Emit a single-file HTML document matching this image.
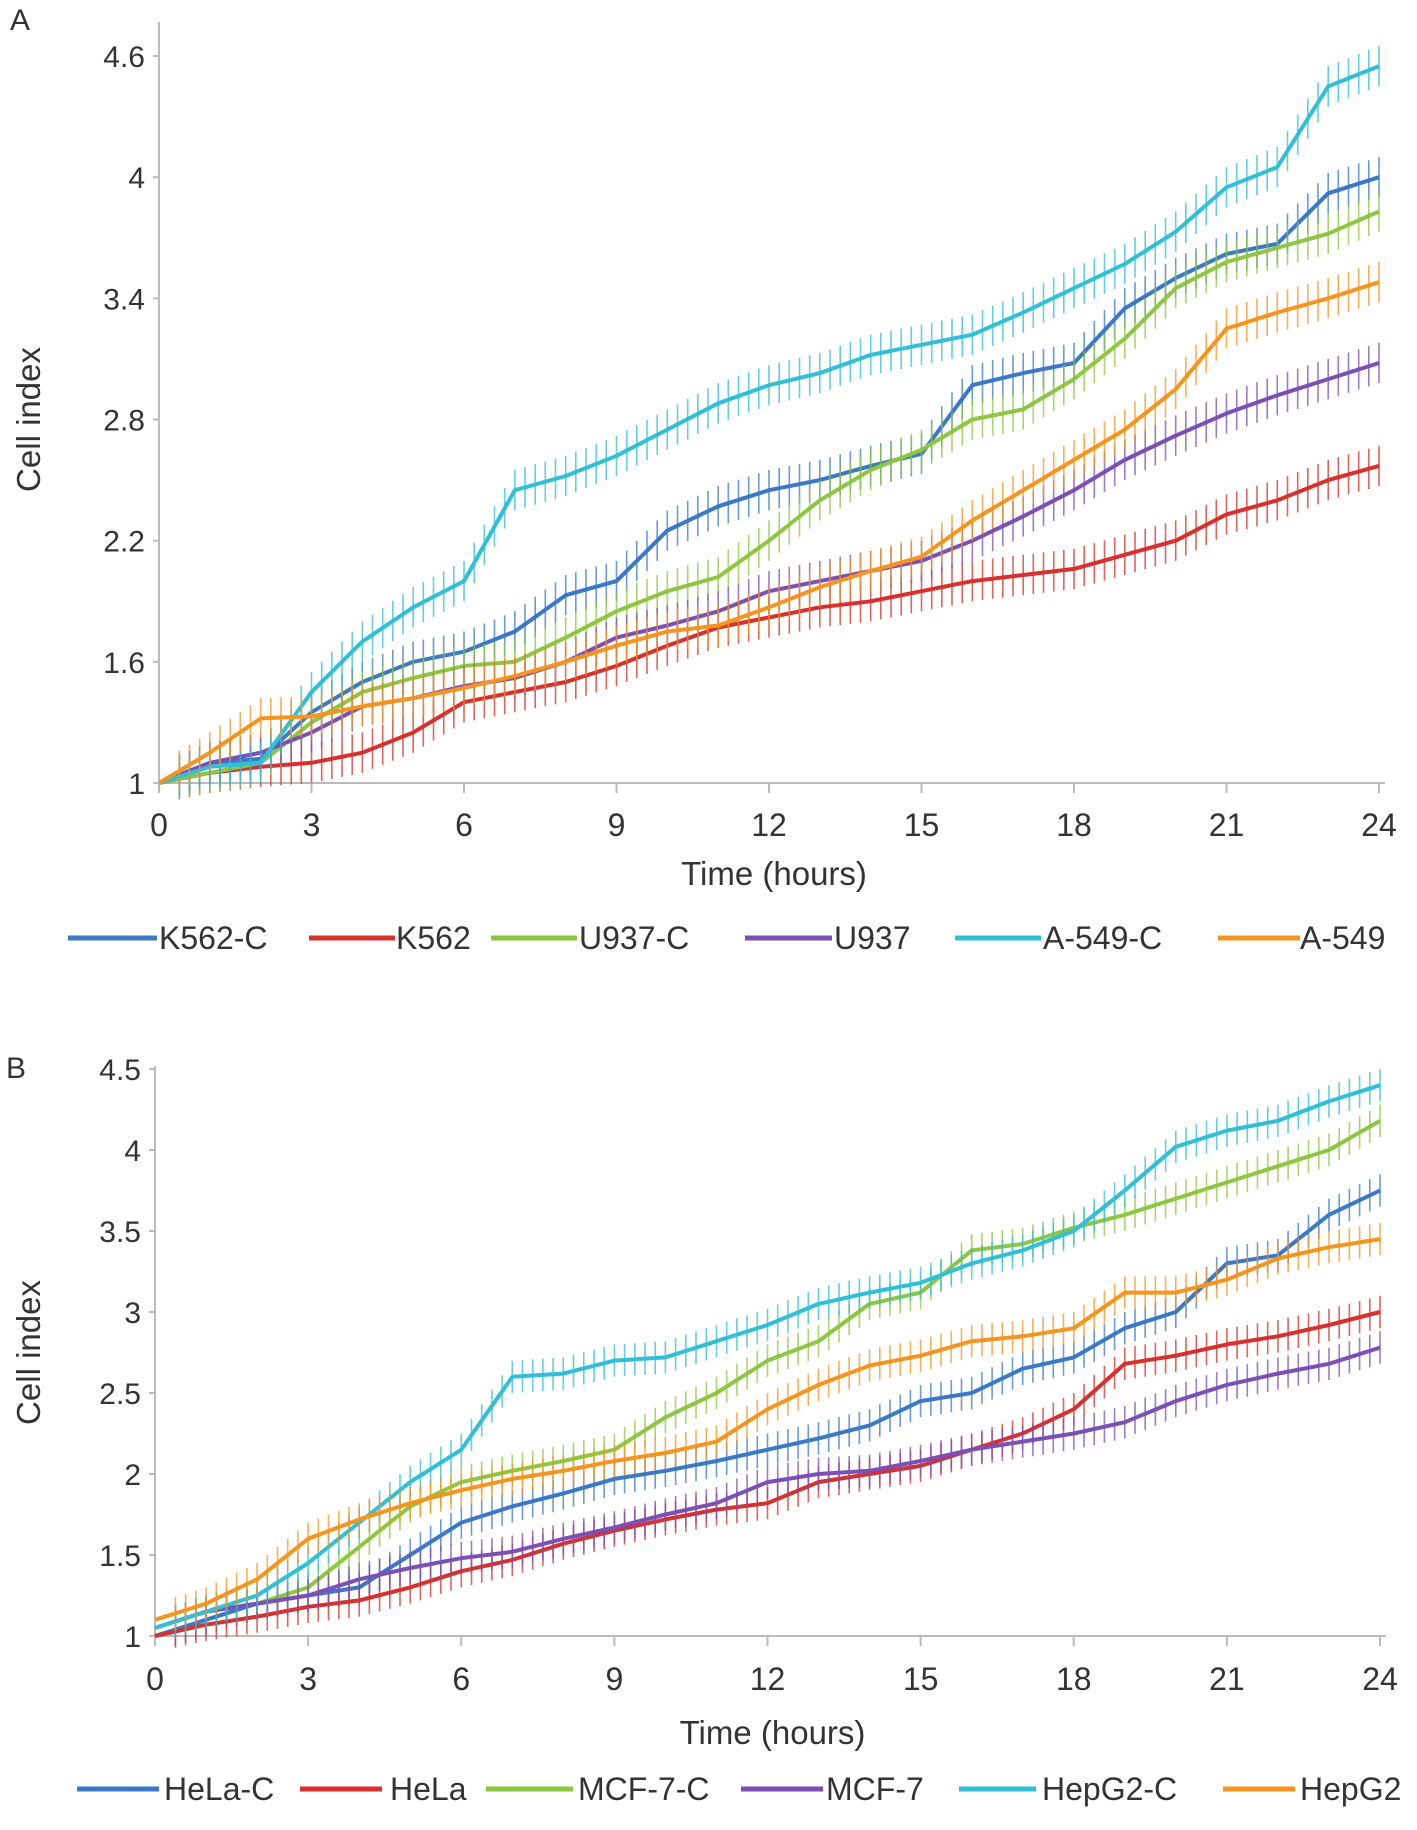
<!DOCTYPE html>
<html><head><meta charset="utf-8"><style>
html,body{margin:0;padding:0;background:#fff}
svg{display:block;font-family:"Liberation Sans",sans-serif}
</style></head><body>
<svg id="chart" width="1417" height="1830" viewBox="0 0 1417 1830" xmlns="http://www.w3.org/2000/svg"></svg>
<script>
const hours=[0,1,2,3,4,5,6,7,8,9,10,11,12,13,14,15,16,17,18,19,20,21,22,23,24];
const xTicks=[0,3,6,9,12,15,18,21,24];
const namesA=["K562-C","K562","U937-C","U937","A-549-C","A-549"];
const namesB=["HeLa-C","HeLa","MCF-7-C","MCF-7","HepG2-C","HepG2"];
const colors=["#3a78c8","#d8302c","#8dc63f","#7b4fb5","#2fbfd6","#f7941d"];
const yTicksA=["1","1.6","2.2","2.8","3.4","4","4.6"];
const yTicksB=["1","1.5","2","2.5","3","3.5","4","4.5"];
const k562c=[1,1.1,1.12,1.35,1.5,1.6,1.65,1.75,1.93,2.0,2.25,2.37,2.45,2.5,2.57,2.63,2.97,3.03,3.08,3.35,3.5,3.62,3.67,3.92,4.0];
const k562=[1,1.05,1.08,1.1,1.15,1.25,1.4,1.45,1.5,1.58,1.68,1.77,1.82,1.87,1.9,1.95,2.0,2.03,2.06,2.13,2.2,2.33,2.4,2.5,2.57];
const u937c=[1,1.05,1.1,1.3,1.45,1.52,1.58,1.6,1.72,1.85,1.95,2.02,2.2,2.4,2.55,2.65,2.8,2.85,3.0,3.2,3.45,3.58,3.65,3.72,3.83];
const u937=[1,1.1,1.15,1.25,1.38,1.42,1.48,1.52,1.6,1.72,1.78,1.85,1.95,2.0,2.05,2.1,2.2,2.32,2.45,2.6,2.72,2.83,2.92,3.0,3.08];
const a549c=[1,1.08,1.1,1.45,1.7,1.87,2.0,2.45,2.52,2.62,2.75,2.88,2.97,3.03,3.12,3.17,3.22,3.33,3.45,3.57,3.73,3.95,4.05,4.45,4.55];
const a549=[1,1.15,1.32,1.33,1.38,1.42,1.47,1.53,1.6,1.68,1.75,1.78,1.87,1.97,2.05,2.12,2.3,2.45,2.6,2.75,2.95,3.25,3.33,3.4,3.48];
const helac=[1,1.1,1.2,1.25,1.3,1.5,1.7,1.8,1.88,1.97,2.02,2.08,2.15,2.22,2.3,2.45,2.5,2.65,2.72,2.9,3.0,3.3,3.35,3.6,3.75];
const hela=[1,1.07,1.12,1.18,1.22,1.3,1.4,1.47,1.57,1.65,1.72,1.78,1.82,1.95,2.0,2.05,2.15,2.25,2.4,2.68,2.73,2.8,2.85,2.92,3.0];
const mcf7c=[1.05,1.15,1.2,1.3,1.55,1.8,1.95,2.02,2.08,2.15,2.35,2.5,2.7,2.82,3.05,3.12,3.38,3.42,3.52,3.6,3.7,3.8,3.9,4.0,4.18];
const mcf7=[1.05,1.15,1.2,1.25,1.35,1.42,1.48,1.52,1.6,1.67,1.75,1.82,1.95,2.0,2.02,2.08,2.15,2.2,2.25,2.32,2.45,2.55,2.62,2.68,2.78];
const hepg2c=[1.05,1.15,1.25,1.45,1.7,1.95,2.15,2.6,2.62,2.7,2.72,2.82,2.92,3.05,3.12,3.18,3.3,3.38,3.5,3.75,4.02,4.12,4.18,4.3,4.4];
const hepg2=[1.1,1.2,1.35,1.6,1.72,1.82,1.9,1.97,2.02,2.08,2.13,2.2,2.4,2.55,2.67,2.73,2.82,2.85,2.9,3.12,3.12,3.2,3.33,3.4,3.45];
const errA=0.1, errB=0.1;

const NS="http://www.w3.org/2000/svg";
const svg=document.getElementById('chart');
function mk(tag,attrs,parent,text){const e=document.createElementNS(NS,tag);for(const k in attrs)e.setAttribute(k,attrs[k]);if(text!==undefined)e.textContent=text;(parent||svg).appendChild(e);return e;}

function panel(cfg){
  const g=mk('g',{});
  
  
  const xs=v=>cfg.x0+(v-0)/(24-0)*(cfg.x1-cfg.x0);
  const ys=v=>cfg.y0-(v-cfg.ymin)/(cfg.ymax-cfg.ymin)*(cfg.y0-cfg.y1);
  const lbl=mk('text',{x:cfg.labelX,y:cfg.labelY,'font-size':30,fill:'#333'},g,cfg.letter);
  
  
  // axes
  const ya=mk('line',{x1:cfg.x0,x2:cfg.x0,y1:cfg.axisTop,y2:cfg.y0+10,stroke:'#bbb','stroke-width':2},g);
  
  
  const xa=mk('line',{x1:cfg.x0,x2:cfg.x1+6,y1:cfg.y0,y2:cfg.y0,stroke:'#bbb','stroke-width':2},g);
  
  
  cfg.yTicks.forEach(t=>{
    const v=parseFloat(t),y=ys(v);
    mk('line',{x1:cfg.x0-6,x2:cfg.x0,y1:y,y2:y,stroke:'#bbb','stroke-width':2},g);
    const tx=mk('text',{x:cfg.x0-14,y:y+11,'font-size':30,'text-anchor':'end',fill:'#333'},g,t);
    
    
  });
  xTicks.forEach(t=>{
    const x=xs(t);
    mk('line',{x1:x,x2:x,y1:cfg.y0,y2:cfg.y0+10,stroke:'#bbb','stroke-width':2},g);
    const tx=mk('text',{x:x,y:cfg.xLabY,'font-size':32,'text-anchor':'middle',fill:'#333'},g,String(t));
    
    
  });
  const xt=mk('text',{x:(cfg.x0+cfg.x1)/2+5,y:cfg.xTitleY,'font-size':33,'text-anchor':'middle',fill:'#333'},g,'Time (hours)');
  
  
  const cy=(cfg.y0+cfg.y1)/2;
  const yt=mk('text',{x:0,y:0,'font-size':33,'text-anchor':'middle',fill:'#333',transform:`translate(40,${cy}) rotate(-90)`},g,'Cell index');
  
  
  // series
  cfg.series.forEach((s,i)=>{
    const sg=mk('g',{},g);
    
    
    const col=colors[i];
    let eb='';
    for(let h=0;h<hours.length-1;h++){
      for(let k=0;k<5;k++){
        const f=k/5, t=hours[h]+f*(hours[h+1]-hours[h]), v=s[h]+f*(s[h+1]-s[h]);
        if(t<0.4)continue;
        const x=xs(t);
        eb+=`M${x.toFixed(1)},${ys(v+cfg.err).toFixed(1)}V${ys(v-cfg.err).toFixed(1)}`;
      }
    }
    const last=hours.length-1;
    eb+=`M${xs(hours[last]).toFixed(1)},${ys(s[last]+cfg.err).toFixed(1)}V${ys(s[last]-cfg.err).toFixed(1)}`;
    const e=mk('path',{d:eb,stroke:col,'stroke-width':1.6,'stroke-opacity':0.75,fill:'none'},sg);
    
    
    const pts=hours.map((h,j)=>xs(h).toFixed(1)+','+ys(s[j]).toFixed(1)).join(' ');
    const l=mk('polyline',{points:pts,stroke:col,'stroke-width':4,fill:'none','stroke-linejoin':'round'},sg);
    
    
  });
  // legend
  cfg.names.forEach((n,i)=>{
    const lg=mk('g',{},g);
    
    
    const [a,b,tx]=cfg.legend[i];
    mk('line',{x1:a,x2:b,y1:cfg.legY,y2:cfg.legY,stroke:colors[i],'stroke-width':5},lg);
    mk('text',{x:tx,y:cfg.legY+11,'font-size':32,fill:'#333'},lg,n);
  });
}

panel({id:'panel-a',letter:'A',labelX:10,labelY:30,x0:159,x1:1379,y0:783,y1:56,axisTop:22,ymin:1,ymax:4.6,
  yTicks:yTicksA,xLabY:836,xTitleY:885,legY:938,err:errA,series:[k562c,k562,u937c,u937,a549c,a549],names:namesA,
  legend:[[68,157,159],[309,395,396],[491,577,579],[745,832,834],[955,1041,1043],[1218,1300,1300]]});
panel({id:'panel-b',letter:'B',labelX:6,labelY:1078,x0:155,x1:1380,y0:1636,y1:1069,axisTop:1066,ymin:1,ymax:4.5,
  yTicks:yTicksB,xLabY:1690,xTitleY:1744,legY:1789,err:errB,series:[helac,hela,mcf7c,mcf7,hepg2c,hepg2],names:namesB,
  legend:[[77,159,164],[300,382,390],[486,573,578],[741,823,826],[959,1036,1042],[1223,1295,1300]]});
</script>
</body></html>
